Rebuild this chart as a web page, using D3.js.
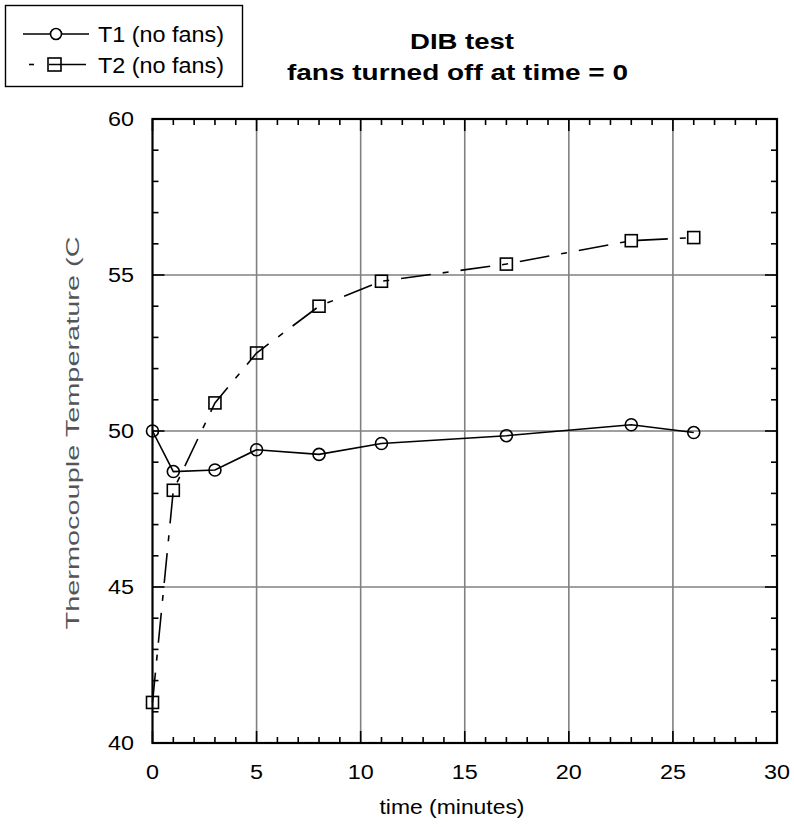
<!DOCTYPE html>
<html><head><meta charset="utf-8">
<script src="https://cdn.jsdelivr.net/npm/d3@7"></script>
<style>body{margin:0;background:#fff}svg{display:block;font-family:"Liberation Sans",Arial,sans-serif}</style>
</head><body><svg id="c" width="794" height="827"></svg>
<script>
const times = [0, 1, 3, 5, 8, 11, 17, 23, 26];
const t1 = [50.0, 48.7, 48.75, 49.4, 49.25, 49.6, 49.85, 50.2, 49.95];
const t2 = [41.3, 48.1, 50.9, 52.5, 54.0, 54.8, 55.35, 56.1, 56.2];
const xTicks = [0, 5, 10, 15, 20, 25, 30];
const yTicks = [40, 45, 50, 55, 60];
const seriesNames = ["T1 (no fans)", "T2 (no fans)"];

const svg = d3.select("#c");
const L = 152.5, R = 777, T = 119, B = 743;
const x = d3.scaleLinear().domain([0, 30]).range([L, R]);
const y = d3.scaleLinear().domain([40, 60]).range([B, T]);

// grid
const g = svg.append("g");
g.selectAll(".gx").data(xTicks.slice(1, -1)).enter().append("line")
  .attr("x1", d => x(d)).attr("x2", d => x(d)).attr("y1", T).attr("y2", B)
  .attr("stroke", "#808080").attr("stroke-width", 1.6);
g.selectAll(".gy").data(yTicks.slice(1, -1)).enter().append("line")
  .attr("y1", d => y(d)).attr("y2", d => y(d)).attr("x1", L).attr("x2", R)
  .attr("stroke", "#808080").attr("stroke-width", 1.6);

// axes with inward ticks
const minorX = d3.range(0, 31, 1), minorY = d3.range(40, 61, 1);
function tickLen(v, step) { return v % step === 0 ? 12 : 6; }
const ax = svg.append("g").attr("stroke", "#000").attr("stroke-width", 1.6);
minorX.forEach(v => {
  const l = tickLen(v, 5);
  ax.append("line").attr("x1", x(v)).attr("x2", x(v)).attr("y1", B).attr("y2", B - l);
  ax.append("line").attr("x1", x(v)).attr("x2", x(v)).attr("y1", T).attr("y2", T + l);
});
minorY.forEach(v => {
  const l = tickLen(v, 5);
  ax.append("line").attr("y1", y(v)).attr("y2", y(v)).attr("x1", L).attr("x2", L + l);
  ax.append("line").attr("y1", y(v)).attr("y2", y(v)).attr("x1", R).attr("x2", R - l);
});
svg.append("rect").attr("x", L).attr("y", T).attr("width", R - L).attr("height", B - T)
  .attr("fill", "none").attr("stroke", "#000").attr("stroke-width", 2.2);

// tick labels
svg.selectAll(".xl").data(xTicks).enter().append("text")
  .attr("x", d => x(d)).attr("y", 779).attr("text-anchor", "middle")
  .attr("font-size", 20.5).attr("textLength", d => String(d).length * 13)
  .attr("lengthAdjust", "spacingAndGlyphs").text(d => d);
svg.selectAll(".yl").data(yTicks).enter().append("text")
  .attr("x", 134).attr("y", d => y(d) + 7).attr("text-anchor", "end")
  .attr("font-size", 20.5).attr("textLength", d => String(d).length * 13)
  .attr("lengthAdjust", "spacingAndGlyphs").text(d => d);

// axis titles
svg.append("text").attr("x", 452).attr("y", 814).attr("text-anchor", "middle")
  .attr("font-size", 21).attr("textLength", 145).attr("lengthAdjust", "spacingAndGlyphs")
  .text("time (minutes)");
svg.append("text").attr("transform", "translate(79,433) rotate(-90)")
  .attr("text-anchor", "middle").attr("font-size", 19).attr("fill", "#555")
  .attr("textLength", 393).attr("lengthAdjust", "spacingAndGlyphs")
  .text("Thermocouple Temperature (C");

// title
svg.append("text").attr("x", 462).attr("y", 49).attr("text-anchor", "middle")
  .attr("font-size", 22).attr("font-weight", "bold")
  .attr("textLength", 104).attr("lengthAdjust", "spacingAndGlyphs").text("DIB test");
svg.append("text").attr("x", 457.5).attr("y", 80).attr("text-anchor", "middle")
  .attr("font-size", 22).attr("font-weight", "bold")
  .attr("textLength", 341).attr("lengthAdjust", "spacingAndGlyphs").text("fans turned off at time = 0");

// series
const d1 = times.map((t, i) => [t, t1[i]]);
const d2 = times.map((t, i) => [t, t2[i]]);
const line = d3.line().x(d => x(d[0])).y(d => y(d[1]));
svg.append("path").attr("d", line(d1)).attr("fill", "none").attr("stroke", "#000").attr("stroke-width", 1.6);
svg.append("path").attr("d", line(d2)).attr("fill", "none").attr("stroke", "#000").attr("stroke-width", 1.6)
  .attr("stroke-dasharray", "30,12,6,12");
svg.selectAll(".c1").data(d1).enter().append("circle")
  .attr("cx", d => x(d[0])).attr("cy", d => y(d[1])).attr("r", 6)
  .attr("fill", "none").attr("stroke", "#000").attr("stroke-width", 1.6);
svg.selectAll(".s2").data(d2).enter().append("rect")
  .attr("x", d => x(d[0]) - 6).attr("y", d => y(d[1]) - 6).attr("width", 12).attr("height", 12)
  .attr("fill", "none").attr("stroke", "#000").attr("stroke-width", 1.6);

// legend
const lg = svg.append("g");
lg.append("rect").attr("x", 5.5).attr("y", 5.5).attr("width", 237).attr("height", 81)
  .attr("fill", "#fff").attr("stroke", "#000").attr("stroke-width", 1.4);
lg.append("line").attr("x1", 23).attr("x2", 89).attr("y1", 34).attr("y2", 34).attr("stroke", "#000").attr("stroke-width", 1.6);
lg.append("circle").attr("cx", 56).attr("cy", 34).attr("r", 5.5).attr("fill", "#fff").attr("stroke", "#000").attr("stroke-width", 1.6);
lg.append("line").attr("x1", 29).attr("x2", 34).attr("y1", 64.5).attr("y2", 64.5).attr("stroke", "#000").attr("stroke-width", 1.6);
lg.append("line").attr("x1", 49).attr("x2", 86).attr("y1", 64.5).attr("y2", 64.5).attr("stroke", "#000").attr("stroke-width", 1.6);
lg.append("rect").attr("x", 48).attr("y", 58).attr("width", 13).attr("height", 13).attr("fill", "none").attr("stroke", "#000").attr("stroke-width", 1.6);
lg.selectAll(".lt").data(seriesNames).enter().append("text")
  .attr("x", 98).attr("y", (d, i) => 42 + i * 31).attr("font-size", 22)
  .attr("textLength", 126).attr("lengthAdjust", "spacingAndGlyphs").text(d => d);
</script></body></html>
